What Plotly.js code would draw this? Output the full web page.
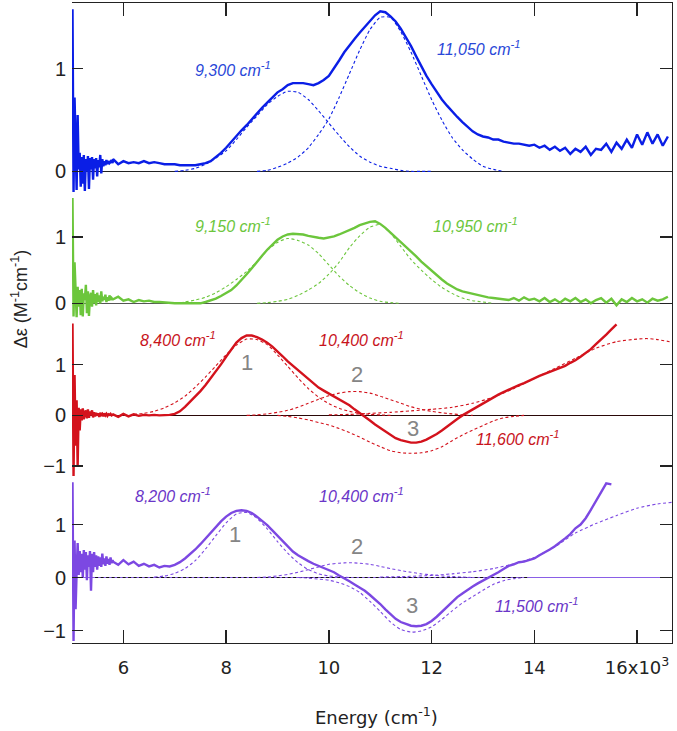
<!DOCTYPE html>
<html>
<head>
<meta charset="utf-8">
<script src="https://cdn.plot.ly/plotly-3.0.1.min.js"></script>
<style>html,body{margin:0;padding:0;background:#fff;}#chart{width:677px;height:731px;}</style>
</head>
<body>
<div id="chart"></div>
<script>
// ---------- DATA ----------
// sampling grids (cm^-1)
const noiseStart = 5010, noiseStep = 20;   // low-energy noisy region
const mainStart = 5800, mainStep = 100;    // rest of the spectrum
const fitStep = 200;

// Panel 1 (blue)
const blueNoise = [1.58,-0.2,0.72,0.35,-0.18,0.55,0.02,0.18,-0.15,0.14,-0.12,0.16,-0.19,0.12,0.0,0.15,-0.17,0.13,0.02,0.14,-0.08,0.12,0.03,0.13,-0.05,0.11,0.04,0.16,-0.02,0.12,0.05,0.10,0.06,0.11,0.07,0.10,0.08,0.09,0.11,0.08];
const blueMain = [0.12,0.07,0.10,0.08,0.09,0.08,0.10,0.08,0.09,0.08,0.07,0.07,0.07,0.06,0.06,0.06,0.06,0.07,0.08,0.10,0.14,0.18,0.23,0.29,0.34,0.40,0.45,0.51,0.56,0.62,0.67,0.72,0.77,0.80,0.84,0.86,0.86,0.86,0.85,0.84,0.86,0.89,0.93,1.00,1.08,1.16,1.23,1.29,1.35,1.41,1.47,1.52,1.56,1.55,1.51,1.46,1.39,1.31,1.22,1.12,1.02,0.93,0.85,0.77,0.70,0.64,0.58,0.53,0.48,0.43,0.39,0.36,0.34,0.33,0.31,0.31,0.29,0.28,0.27,0.27,0.26,0.25,0.26,0.23,0.25,0.21,0.24,0.20,0.23,0.17,0.22,0.19,0.24,0.16,0.22,0.21,0.27,0.19,0.28,0.22,0.31,0.23,0.36,0.26,0.38,0.27,0.36,0.25,0.34];
const blueFit1Start = 7000;
const blueFit1 = [0.00,0.01,0.03,0.07,0.13,0.20,0.31,0.43,0.54,0.65,0.73,0.78,0.77,0.70,0.59,0.47,0.35,0.24,0.15,0.09,0.05,0.03,0.01,0.00,0.00,0.00];
const blueFit2Start = 8600;
const blueFit2 = [0.00,0.01,0.04,0.08,0.14,0.23,0.36,0.51,0.72,0.95,1.18,1.38,1.50,1.50,1.36,1.16,0.93,0.70,0.50,0.33,0.21,0.12,0.05,0.02,0.00];

// Panel 2 (green)
const greenNoise = [1.59,-0.2,0.62,0.1,-0.21,0.25,-0.05,0.2,-0.18,0.22,-0.2,0.15,0.05,0.28,-0.15,0.18,-0.19,0.1,0.16,-0.05,0.2,0.0,0.14,-0.03,0.16,0.02,0.12,0.0,0.18,0.03,0.1,0.05,0.13,0.02,0.09,0.04,0.12,0.05,0.08,0.06];
const greenMain = [0.06,0.10,0.04,0.06,0.02,0.05,0.03,0.04,0.02,0.02,0.01,0.01,0.00,0.00,0.00,-0.01,0.00,0.00,0.02,0.04,0.07,0.11,0.15,0.20,0.27,0.35,0.44,0.53,0.63,0.72,0.81,0.89,0.96,1.01,1.04,1.05,1.05,1.04,1.02,1.00,0.99,0.98,0.99,1.01,1.04,1.07,1.10,1.14,1.18,1.21,1.23,1.24,1.20,1.14,1.07,1.00,0.93,0.86,0.78,0.71,0.63,0.56,0.49,0.42,0.36,0.30,0.25,0.21,0.18,0.16,0.14,0.12,0.11,0.09,0.08,0.07,0.07,0.05,0.08,0.04,0.09,0.05,0.07,0.03,0.08,0.02,0.06,0.01,0.07,0.03,0.08,0.02,0.06,0.00,0.05,0.08,0.01,0.07,-0.03,0.06,0.02,0.08,0.03,0.06,0.01,0.07,0.04,0.06,0.10];
const greenFit1Start = 7000;
const greenFit1 = [0.00,0.02,0.05,0.09,0.16,0.25,0.36,0.48,0.63,0.80,0.92,0.98,0.95,0.88,0.75,0.58,0.41,0.27,0.16,0.08,0.03,0.01,0.00];
const greenFit2Start = 8600;
const greenFit2 = [0.00,0.01,0.03,0.06,0.12,0.20,0.30,0.44,0.62,0.84,1.02,1.15,1.19,1.06,0.86,0.66,0.50,0.36,0.24,0.15,0.08,0.04,0.02,0.00];

// Panel 3 (red)
const redNoise = [1.82,-1.2,0.8,-0.6,0.3,-1.0,0.15,-0.3,0.12,-0.1,0.14,-0.08,0.05,0.1,-0.06,0.12,-0.05,0.08,0.0,0.1,-0.04,0.06,-0.02,0.05,0.0,0.04,-0.03,0.05,0.01,0.03,-0.02,0.04,0.0,0.03,-0.01,0.02,0.01,0.03,0.0,0.02];
const redMain = [0.02,-0.03,0.03,-0.02,0.02,-0.01,0.01,0.00,0.01,0.00,0.00,0.01,0.03,0.08,0.17,0.27,0.37,0.48,0.60,0.73,0.87,1.01,1.16,1.31,1.44,1.53,1.58,1.58,1.55,1.50,1.44,1.36,1.27,1.17,1.07,0.98,0.89,0.80,0.71,0.63,0.55,0.49,0.43,0.37,0.31,0.25,0.20,0.12,0.05,-0.03,-0.10,-0.18,-0.25,-0.32,-0.39,-0.45,-0.49,-0.52,-0.54,-0.54,-0.52,-0.48,-0.43,-0.37,-0.30,-0.22,-0.15,-0.07,0.00,0.06,0.12,0.18,0.24,0.30,0.36,0.41,0.46,0.51,0.55,0.60,0.64,0.69,0.73,0.78,0.82,0.86,0.89,0.93,0.98,1.04,1.09,1.16,1.24,1.31,1.41,1.50,1.60,1.70,1.80];
const redFit1Start = 6200;
const redFit1 = [0.02,0.04,0.08,0.15,0.25,0.38,0.56,0.76,0.98,1.20,1.39,1.51,1.50,1.40,1.20,0.97,0.74,0.53,0.36,0.23,0.14,0.08,0.04,0.02,0.01,0.00];
const redFit2Start = 8400;
const redFit2 = [0.00,0.01,0.03,0.06,0.10,0.16,0.24,0.32,0.39,0.44,0.47,0.47,0.44,0.38,0.31,0.24,0.17,0.12,0.08,0.05,0.03,0.01,0.00];
const redFit3Start = 9000;
const redFit3 = [0.00,-0.02,-0.05,-0.09,-0.14,-0.19,-0.26,-0.34,-0.43,-0.53,-0.62,-0.70,-0.74,-0.75,-0.74,-0.70,-0.62,-0.50,-0.39,-0.29,-0.20,-0.11,-0.05,-0.02,0.00];
const redFit4X = [10000,10400,10800,11200,11600,12000,12400,12800,13200,13600,14000,14400,14800,15200,15600,16000,16200,16400,16680];
const redFit4 = [0.01,0.02,0.04,0.06,0.09,0.12,0.16,0.24,0.36,0.53,0.73,0.93,1.13,1.33,1.46,1.51,1.52,1.50,1.45];

// Panel 4 (purple)
const purpleNoise = [1.8,-1.2,0.7,-0.6,0.1,0.65,0.05,0.5,0.1,0.45,0.0,0.52,0.15,0.48,-0.05,0.42,0.2,0.5,-0.25,0.45,0.1,0.48,0.2,0.42,0.15,0.4,0.22,0.38,0.2,0.45,0.25,0.36,0.22,0.4,0.26,0.35,0.24,0.38,0.27,0.33];
const purpleMain = [0.30,0.24,0.33,0.25,0.30,0.22,0.26,0.21,0.24,0.19,0.22,0.21,0.24,0.29,0.36,0.44,0.53,0.63,0.74,0.85,0.96,1.06,1.15,1.22,1.26,1.27,1.26,1.22,1.15,1.07,0.99,0.89,0.79,0.68,0.58,0.49,0.42,0.36,0.31,0.26,0.22,0.18,0.14,0.10,0.04,-0.01,-0.07,-0.13,-0.19,-0.25,-0.33,-0.41,-0.50,-0.60,-0.69,-0.78,-0.84,-0.88,-0.91,-0.92,-0.91,-0.88,-0.82,-0.74,-0.65,-0.56,-0.46,-0.37,-0.30,-0.23,-0.17,-0.11,-0.06,-0.01,0.04,0.10,0.16,0.22,0.25,0.29,0.30,0.33,0.36,0.42,0.47,0.53,0.59,0.66,0.74,0.82,0.93,1.00,1.12,1.28,1.45,1.62,1.78,1.76];
const purpleFit1Start = 6600;
const purpleFit1 = [0.01,0.03,0.08,0.17,0.32,0.54,0.79,1.03,1.20,1.23,1.12,0.92,0.68,0.46,0.28,0.15,0.07,0.03,0.01,0.00];
const purpleFit2Start = 8600;
const purpleFit2 = [0.00,0.01,0.03,0.06,0.10,0.15,0.20,0.25,0.27,0.28,0.27,0.25,0.21,0.17,0.13,0.10,0.07,0.05,0.03,0.02,0.01,0.00];
const purpleFit3Start = 9400;
const purpleFit3 = [0.00,-0.01,-0.03,-0.05,-0.10,-0.17,-0.28,-0.45,-0.64,-0.84,-0.98,-1.03,-1.01,-0.93,-0.79,-0.63,-0.48,-0.36,-0.24,-0.13,-0.06,-0.02,0.00];
const purpleFit4X = [11000,11500,12000,12400,12800,13200,13600,14000,14400,14800,15200,15600,16000,16400,16680];
const purpleFit4 = [0.01,0.02,0.04,0.07,0.11,0.17,0.26,0.38,0.58,0.84,1.02,1.17,1.31,1.39,1.42];
const purpleBaseX = [5450, 13900];
const purpleBase = [0, 0];

// labels
const xTickVals = [6000, 8000, 10000, 12000, 14000, 16000];
const xTickText = ['6', '8', '10', '12', '14', '16x10<sup>3</sup>'];
const bandLabels1 = ['9,300', '11,050'];
const bandLabels2 = ['9,150', '10,950'];
const bandLabels3 = ['8,400', '10,400', '11,600'];
const bandLabels4 = ['8,200', '10,400', '11,500'];
const peakNumbers = ['1', '2', '3'];

// ---------- BUILD ----------
const C = {blue:'#0a1ee6', green:'#6cc63c', red:'#d3121c', purple:'#7c48e2'};
const T = {blue:'#2a48d8', green:'#6cc63c', red:'#c8141c', purple:'#6a36c8'};

function grid(start, step, n) { const a = []; for (let i = 0; i < n; i++) a.push(start + step * i); return a; }
function solid(noise, main) {
  return { x: grid(noiseStart, noiseStep, noise.length).concat(grid(mainStart, mainStep, main.length)),
           y: noise.concat(main) };
}
const traces = [];
function addFit(xs, ys, color, p, dashColor) {
  traces.push({x: xs, y: ys, type:'scatter', mode:'lines', xaxis:'x'+p, yaxis:'y'+p,
    line:{color: dashColor || color, width:1.1, dash:'3px,2.5px', shape:'spline', smoothing:0.6}, hoverinfo:'skip'});
}
function addSolid(noise, main, color, p) {
  const s = solid(noise, main);
  traces.push({x: s.x, y: s.y, type:'scatter', mode:'lines', xaxis:'x'+p, yaxis:'y'+p,
    line:{color: color, width:2.4}, hoverinfo:'skip'});
}
// panel 1
addFit(grid(blueFit1Start, fitStep, blueFit1.length), blueFit1, C.blue, 1);
addFit(grid(blueFit2Start, fitStep, blueFit2.length), blueFit2, C.blue, 1);
addSolid(blueNoise, blueMain, C.blue, 1);
// panel 2
addFit(grid(greenFit1Start, fitStep, greenFit1.length), greenFit1, C.green, 2);
addFit(grid(greenFit2Start, fitStep, greenFit2.length), greenFit2, C.green, 2);
addSolid(greenNoise, greenMain, C.green, 2);
// panel 3
addFit(grid(redFit1Start, fitStep, redFit1.length), redFit1, C.red, 3);
addFit(grid(redFit2Start, fitStep, redFit2.length), redFit2, C.red, 3);
addFit(grid(redFit3Start, fitStep, redFit3.length), redFit3, C.red, 3);
addFit(redFit4X, redFit4, C.red, 3);
addSolid(redNoise, redMain, C.red, 3);
// panel 4
traces.push({x: purpleBaseX, y: purpleBase, type:'scatter', mode:'lines', xaxis:'x4', yaxis:'y4',
  line:{color:'#111', width:1.1, dash:'3px,2.5px'}, hoverinfo:'skip'});
addFit(grid(purpleFit1Start, fitStep, purpleFit1.length), purpleFit1, C.purple, 4);
addFit(grid(purpleFit2Start, fitStep, purpleFit2.length), purpleFit2, C.purple, 4);
addFit(grid(purpleFit3Start, fitStep, purpleFit3.length), purpleFit3, C.purple, 4);
addFit(purpleFit4X, purpleFit4, C.purple, 4);
addSolid(purpleNoise, purpleMain, C.purple, 4);

const xRange = [5000, 16680];
const domains = [[0.7016, 1], [0.5078, 0.7016], [0.2609, 0.5078], [0, 0.2609]];
const yRanges = [[-0.22, 1.64], [-0.222, 1.652], [-1.20, 1.927], [-1.236, 1.917]];
const yTicks = [[0, 1], [0, 1], [-1, 0, 1], [-1, 0, 1]];
const zeroColors = ['#222222', '#555555', '#2a0808', '#8a5ee6'];

// empty placeholder traces so that the right-hand frame axes are drawn
for (let p = 1; p <= 4; p++) {
  traces.push({x: [null], y: [null], type:'scatter', mode:'lines', xaxis:'x'+p, yaxis:'y'+(p+4),
    hoverinfo:'skip', showlegend:false});
}

const layout = {
  width: 677, height: 731,
  margin: {l: 72, r: 5, t: 3, b: 88, pad: 0},
  paper_bgcolor: '#ffffff', plot_bgcolor: '#ffffff',
  showlegend: false,
  annotations: []
};
for (let p = 1; p <= 4; p++) {
  const xa = {range: xRange, showgrid: false, zeroline: false, anchor: 'y' + p,
    tickvals: xTickVals, ticktext: xTickText, ticks: '', showticklabels: false, showline: false};
  if (p > 1) xa.matches = 'x';
  if (p === 1) { Object.assign(xa, {side: 'top', ticks: 'inside', ticklen: 13, tickwidth: 1.3, tickcolor: '#222',
    showline: true, linecolor: '#222', linewidth: 1.4}); }
  if (p === 4) { Object.assign(xa, {ticks: 'inside', ticklen: 13, tickwidth: 1.3, tickcolor: '#222',
    showline: true, linecolor: '#222', linewidth: 1.4, showticklabels: true, ticklabelstandoff: 8,
    tickfont: {family: 'DejaVu Sans', size: 18, color: '#222'}}); }
  layout[p === 1 ? 'xaxis' : 'xaxis' + p] = xa;
  layout['yaxis' + p] = {domain: domains[p-1], range: yRanges[p-1], anchor: 'x' + p,
    showgrid: false, zeroline: true, zerolinecolor: zeroColors[p-1], zerolinewidth: 1.2,
    tickvals: yTicks[p-1], ticks: 'inside', ticklen: 11, tickwidth: 1.3, tickcolor: '#222',
    showline: false, ticklabelstandoff: 5,
    tickfont: {family: 'Liberation Sans, Arial, sans-serif', size: 20, color: '#222'}};
  // right-hand frame with inward ticks
  layout['yaxis' + (p + 4)] = {overlaying: 'y' + p, side: 'right', anchor: 'x' + p, range: yRanges[p-1],
    showgrid: false, zeroline: false, tickvals: yTicks[p-1], ticks: 'inside', ticklen: 12, tickwidth: 1.3,
    tickcolor: '#222', showticklabels: false, showline: true, linecolor: '#222', linewidth: 1.4};
}

function ann(p, x, y, text, color, size, italic) {
  layout.annotations.push({xref: 'x' + p, yref: 'y' + p, x: x, y: y, showarrow: false,
    text: italic ? '<i>' + text + '</i>' : text, xanchor: 'center', yanchor: 'middle',
    font: {family: 'Liberation Sans, Arial, sans-serif', size: size, color: color}});
}
const cm = ' cm<sup>-1</sup>';
ann(1, 8134, 1.00, bandLabels1[0] + cm, T.blue, 16, true);
ann(1, 12904, 1.20, bandLabels1[1] + cm, T.blue, 16, true);
ann(2, 8134, 1.18, bandLabels2[0] + cm, T.green, 16, true);
ann(2, 12845, 1.18, bandLabels2[1] + cm, T.green, 16, true);
ann(3, 7063, 1.51, bandLabels3[0] + cm, T.red, 16, true);
ann(3, 10645, 1.51, bandLabels3[1] + cm, T.red, 16, true);
ann(3, 13663, -0.45, bandLabels3[2] + cm, T.red, 16, true);
ann(4, 6966, 1.56, bandLabels4[0] + cm, T.purple, 16, true);
ann(4, 10645, 1.56, bandLabels4[1] + cm, T.purple, 16, true);
ann(4, 14033, -0.52, bandLabels4[2] + cm, T.purple, 16, true);
const gray = '#858585';
ann(3, 8407, 1.04, peakNumbers[0], gray, 22, false);
ann(3, 10548, 0.80, peakNumbers[1], gray, 22, false);
ann(3, 11638, -0.25, peakNumbers[2], gray, 22, false);
ann(4, 8173, 0.82, peakNumbers[0], gray, 22, false);
ann(4, 10548, 0.59, peakNumbers[1], gray, 22, false);
ann(4, 11619, -0.52, peakNumbers[2], gray, 22, false);

// axis titles
layout.annotations.push({xref: 'paper', yref: 'paper', x: 0.507, y: -0.114, showarrow: false,
  xanchor: 'center', yanchor: 'middle', text: 'Energy (cm<sup>-1</sup>)',
  font: {family: 'DejaVu Sans', size: 18, color: '#222'}});
layout.annotations.push({xref: 'paper', yref: 'paper', x: -0.088, y: 0.5375, showarrow: false,
  xanchor: 'center', yanchor: 'middle', textangle: -90, text: 'Δε (M<sup>-1</sup>cm<sup>-1</sup>)',
  font: {family: 'Liberation Sans, Arial, sans-serif', size: 18, color: '#222'}});

Plotly.newPlot('chart', traces, layout, {displayModeBar: false, staticPlot: true});
</script>
</body>
</html>
